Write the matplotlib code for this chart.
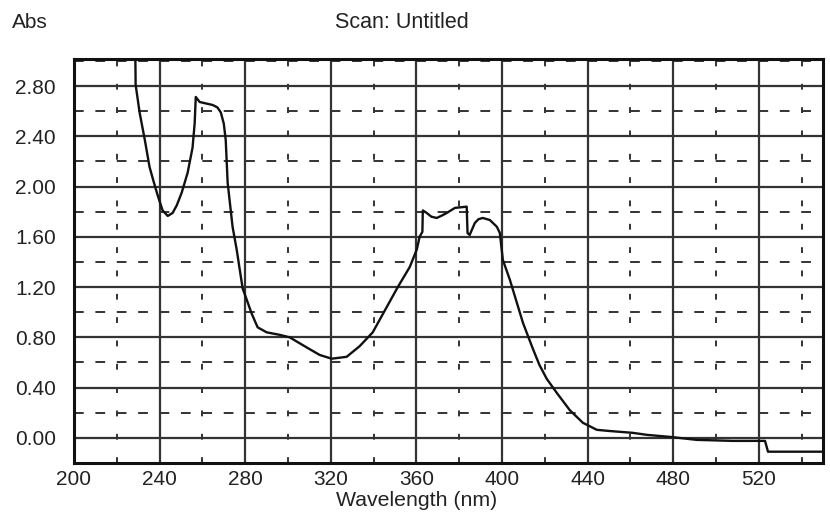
import matplotlib
matplotlib.use("Agg")
import matplotlib.pyplot as plt
from matplotlib.ticker import MultipleLocator

plt.rcParams['font.family'] = ['Liberation Sans', 'DejaVu Sans']

# Data
wavelength = [228.5, 228.8, 230.7, 233.0, 235.3, 237.2, 239.1, 241.4, 243.8, 246.1,
              248.0, 250.3, 253.1, 255.4, 256.4, 256.9, 258.7, 262.0, 264.8, 267.0,
              268.6, 270.0, 270.9, 271.8, 274.1, 276.0, 278.8, 280.7, 283.0, 285.8,
              290.0, 296.1, 300.8, 308.7, 314.8, 320.4, 327.4, 333.5, 339.6, 346.1,
              351.3, 356.9, 360.2, 361.5, 362.8, 363.0, 364.8, 367.0, 369.5, 372.0,
              374.2, 378.0, 383.5, 383.9, 384.9, 387.3, 389.0, 391.0, 394.3, 397.6,
              399.0, 400.4, 403.7, 409.8, 414.4, 417.5, 420.9, 425.6, 431.7, 437.8,
              444.3, 450.0, 461.1, 467.7, 478.4, 491.0, 507.9, 522.9, 524.3, 550.0]
absorbance = [3.30, 2.81, 2.585, 2.38, 2.156, 2.04, 1.93, 1.81, 1.766, 1.79,
              1.85, 1.95, 2.11, 2.31, 2.506, 2.713, 2.673, 2.66, 2.649, 2.63,
              2.59, 2.50, 2.37, 2.03, 1.68, 1.50, 1.19, 1.10, 0.99, 0.88,
              0.84, 0.82, 0.80, 0.72, 0.66, 0.63, 0.645, 0.73, 0.84, 1.04,
              1.20, 1.36, 1.50, 1.60, 1.64, 1.81, 1.79, 1.76, 1.75, 1.77,
              1.79, 1.83, 1.84, 1.63, 1.615, 1.71, 1.74, 1.75, 1.734, 1.68,
              1.63, 1.416, 1.257, 0.915, 0.71, 0.58, 0.47, 0.358, 0.22, 0.12,
              0.064, 0.055, 0.04, 0.024, 0.008, -0.016, -0.024, -0.024, -0.11, -0.11]

x_major = [200, 240, 280, 320, 360, 400, 440, 480, 520]
y_major = [0.0, 0.4, 0.8, 1.2, 1.6, 2.0, 2.4, 2.8]
y_labels = ["0.00", "0.40", "0.80", "1.20", "1.60", "2.00", "2.40", "2.80"]

W, H = 830, 512
fig = plt.figure(figsize=(W / 100, H / 100), dpi=100)
ax = fig.add_axes([74 / W, 1 - 463 / H, (823 - 74) / W, (463 - 59) / H])

ax.set_xlim(200, 550)
ax.set_ylim(-0.2, 3.015)
ax.set_xticks(x_major)
ax.set_yticks(y_major)
ax.set_yticklabels(y_labels)
ax.xaxis.set_minor_locator(MultipleLocator(20))
ax.yaxis.set_minor_locator(MultipleLocator(0.2))
ax.tick_params(which='both', length=0, labelsize=15, colors='#222222')
ax.tick_params(axis='y', pad=13)
ax.tick_params(axis='x', pad=5)

ax.grid(which='major', color='#333333', linewidth=1.6, linestyle='-')
ax.grid(which='minor', axis='y', color='#333333', linewidth=1.4, linestyle=(0, (5, 6)))
ax.grid(which='minor', axis='x', color='#333333', linewidth=1.4, linestyle=(0, (3, 9)))
ax.set_axisbelow(True)

for s in ax.spines.values():
    s.set_linewidth(2.2)
    s.set_color('#111111')

ax.plot(wavelength, absorbance, color='#111111', linewidth=1.7, zorder=3)

fig.text(12 / W, 1 - 22 / H, "Abs", fontsize=15, va='center', ha='left', color='#222222')
fig.text(402 / W, 1 - 23 / H, "Scan: Untitled", fontsize=15.5, va='center', ha='center', color='#222222')
fig.text(417 / W, 1 - 500 / H, "Wavelength (nm)", fontsize=15.3, va='center', ha='center', color='#222222')

fig.savefig("out.png", dpi=100, facecolor='white')
